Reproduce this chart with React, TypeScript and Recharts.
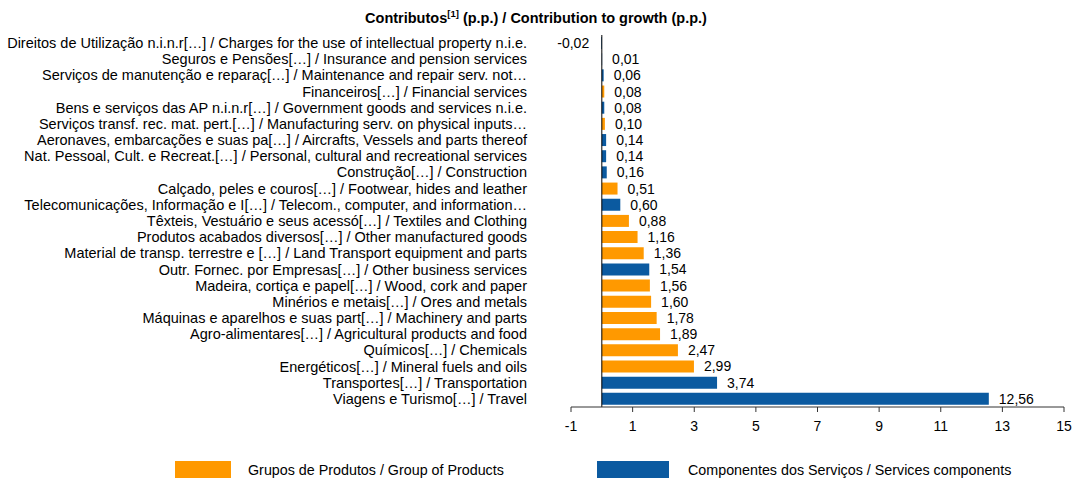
import React from 'react'
import { BarChart, Bar, XAxis, YAxis, Cell, LabelList, ReferenceLine } from 'recharts'

const categories = [
  'Direitos de Utilização n.i.n.r[…] / Charges for the use of intellectual property n.i.e.',
  'Seguros e Pensões[…] / Insurance and pension services',
  'Serviços de manutenção e reparaç[…] / Maintenance and repair serv. not…',
  'Financeiros[…] / Financial services',
  'Bens e serviços das AP n.i.n.r[…] / Government goods and services n.i.e.',
  'Serviços transf. rec. mat. pert.[…] / Manufacturing serv. on physical inputs…',
  'Aeronaves, embarcações e suas pa[…] / Aircrafts, Vessels and parts thereof',
  'Nat. Pessoal, Cult. e Recreat.[…] / Personal, cultural and recreational services',
  'Construção[…] / Construction',
  'Calçado, peles e couros[…] / Footwear, hides and leather',
  'Telecomunicações, Informação e I[…] / Telecom., computer, and information…',
  'Têxteis, Vestuário e seus acessó[…] / Textiles and Clothing ',
  'Produtos acabados diversos[…] / Other manufactured goods',
  'Material de transp. terrestre e […] / Land Transport equipment and parts',
  'Outr. Fornec. por Empresas[…] / Other business services',
  'Madeira, cortiça e papel[…] / Wood, cork and paper',
  'Minérios e metais[…] / Ores and metals ',
  'Máquinas e aparelhos e suas part[…] / Machinery and parts',
  'Agro-alimentares[…] / Agricultural products and food',
  'Químicos[…] / Chemicals',
  'Energéticos[…] / Mineral fuels and oils',
  'Transportes[…] / Transportation',
  'Viagens e Turismo[…] / Travel',
]

const values = [
  -0.02, 0.01, 0.06, 0.08, 0.08, 0.1, 0.14, 0.14, 0.16, 0.51, 0.6, 0.88,
  1.16, 1.36, 1.54, 1.56, 1.6, 1.78, 1.89, 2.47, 2.99, 3.74, 12.56,
]

// 'p' = Grupos de Produtos, 's' = Componentes dos Serviços
const groups = [
  's', 's', 's', 'p', 's', 'p', 's', 's', 's', 'p', 's', 'p',
  'p', 'p', 's', 'p', 'p', 'p', 'p', 'p', 'p', 's', 's',
]

const xTicks = [-1, 1, 3, 5, 7, 9, 11, 13, 15]

const legendItems = [
  { key: 'p', label: 'Grupos de Produtos / Group of Products' },
  { key: 's', label: 'Componentes dos Serviços / Services components' },
]

const COLORS: Record<string, string> = { p: '#FF9900', s: '#0B5AA0' }
const FONT = '"Liberation Sans", Arial, sans-serif'

const data = categories.map((name, i) => ({ name, value: values[i], group: groups[i] }))

const fmt = (v: number) => v.toFixed(2).replace('.', ',')

function CategoryTick(props: any) {
  const { x, y, payload } = props
  return (
    <text x={x} y={y} dy={5} textAnchor="end" fontSize={14.5} fill="#000" fontFamily={FONT}>
      {payload.value}
    </text>
  )
}

function ValueLabel(props: any) {
  const { x, y, width, height, value } = props
  const cy = y + height / 2 + 5
  if (value < 0) {
    const left = Math.min(x, x + width)
    return (
      <text x={left - 12} y={cy} textAnchor="end" fontSize={14} fill="#000" fontFamily={FONT}>
        {fmt(value)}
      </text>
    )
  }
  return (
    <text x={x + width + 10} y={cy} textAnchor="start" fontSize={14} fill="#000" fontFamily={FONT}>
      {fmt(value)}
    </text>
  )
}

export default function App() {
  return (
    <div style={{ position: 'absolute', left: 0, top: 0, width: 1072, height: 479, background: '#fff', fontFamily: FONT }}>
      <div style={{ position: 'absolute', left: 0, width: 1072, top: 8, textAlign: 'center', fontSize: 14.5, fontWeight: 'bold', color: '#000' }}>
        Contributos<sup style={{ fontSize: 9.5 }}>[1]</sup> (p.p.) / Contribution to growth (p.p.)
      </div>

      <BarChart
        width={1072}
        height={479}
        data={data}
        layout="vertical"
        margin={{ top: 35, right: 8, bottom: 42, left: 0 }}
        barCategoryGap={2}
      >
        <XAxis
          type="number"
          domain={[-1, 15]}
          ticks={xTicks}
          interval={0}
          allowDataOverflow
          stroke="#333"
          tickSize={5}
          height={30}
          tick={{ fill: '#000', fontSize: 14, fontFamily: FONT }}
          tickMargin={9}
        />
        <YAxis
          type="category"
          dataKey="name"
          width={571}
          axisLine={false}
          tickLine={false}
          interval={0}
          tickMargin={38}
          tick={<CategoryTick />}
        />
        <ReferenceLine x={0} stroke="#000" strokeWidth={1} />
        <Bar dataKey="value" barSize={12} isAnimationActive={false}>
          {data.map((d, i) => (
            <Cell key={i} fill={COLORS[d.group]} />
          ))}
          <LabelList dataKey="value" content={<ValueLabel />} />
        </Bar>
      </BarChart>

      {legendItems.map((item, i) => (
        <div
          key={item.key}
          style={{ position: 'absolute', top: 461, left: i === 0 ? 175 : 597, display: 'flex', alignItems: 'center', fontSize: 14.3, color: '#000' }}
        >
          <div style={{ width: i === 0 ? 56 : 72, height: 17, background: COLORS[item.key], marginRight: i === 0 ? 17 : 19 }} />
          <span>{item.label}</span>
        </div>
      ))}
    </div>
  )
}
